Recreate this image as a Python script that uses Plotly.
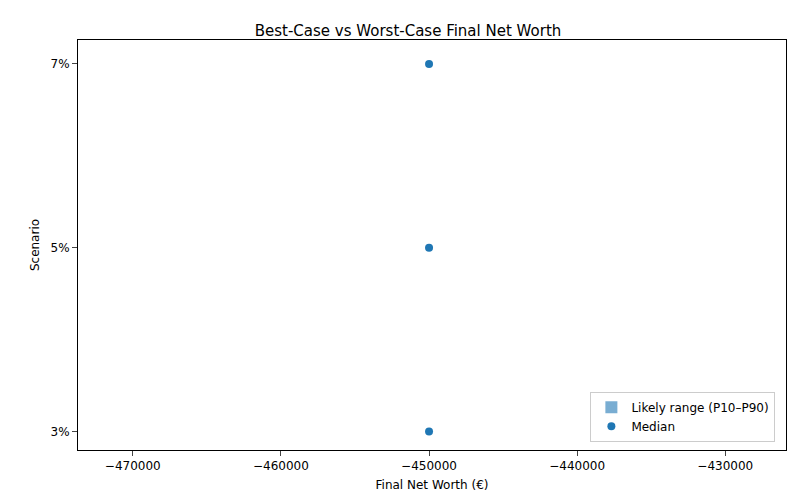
import plotly.graph_objects as go

scenarios = ["3%", "5%", "7%"]
p10 = [-450000, -450000, -450000]
p90 = [-450000, -450000, -450000]
median = [-450000, -450000, -450000]

ypos = list(range(len(scenarios)))

fig = go.Figure()
fig.add_trace(go.Bar(
    y=ypos, x=[b - a for a, b in zip(p10, p90)], base=p10, orientation="h",
    marker=dict(color="rgba(31,119,180,0.6)", line=dict(width=0)), width=0.6,
    name="Likely range (P10–P90)"))
fig.add_trace(go.Scatter(
    x=median, y=ypos, mode="markers",
    marker=dict(color="#1f77b4", size=8), name="Median"))

fig.update_layout(
    width=800, height=500,
    plot_bgcolor="white", paper_bgcolor="white",
    font=dict(family="DejaVu Sans", size=12, color="black"),
    title=dict(text="Best-Case vs Worst-Case Final Net Worth", x=0.5, y=0.965,
               xanchor="center", font=dict(size=15)),
    margin=dict(l=70, r=22, t=32, b=58, autoexpand=False),
    xaxis=dict(title=dict(text="Final Net Worth (€)", font=dict(size=12), standoff=8),
               range=[-473700, -425900], automargin=False,
               tickvals=[-470000, -460000, -450000, -440000, -430000],
               ticktext=["−470000", "−460000", "−450000", "−440000", "−430000"],
               showgrid=False, zeroline=False, showline=True, linecolor="black",
               mirror=True, ticks="outside", tickfont=dict(size=12)),
    yaxis=dict(title=dict(text="Scenario", font=dict(size=12), standoff=8),
               range=[-0.1, 2.13], tickvals=ypos, ticktext=scenarios, automargin=False,
               showgrid=False, zeroline=False, showline=True, linecolor="black",
               mirror=True, ticks="outside", tickfont=dict(size=12)),
    legend=dict(x=0.985, y=0.02, xanchor="right", yanchor="bottom",
                bordercolor="#cccccc", borderwidth=1, bgcolor="white"),
    showlegend=True,
)
fig.write_html("out.html")
